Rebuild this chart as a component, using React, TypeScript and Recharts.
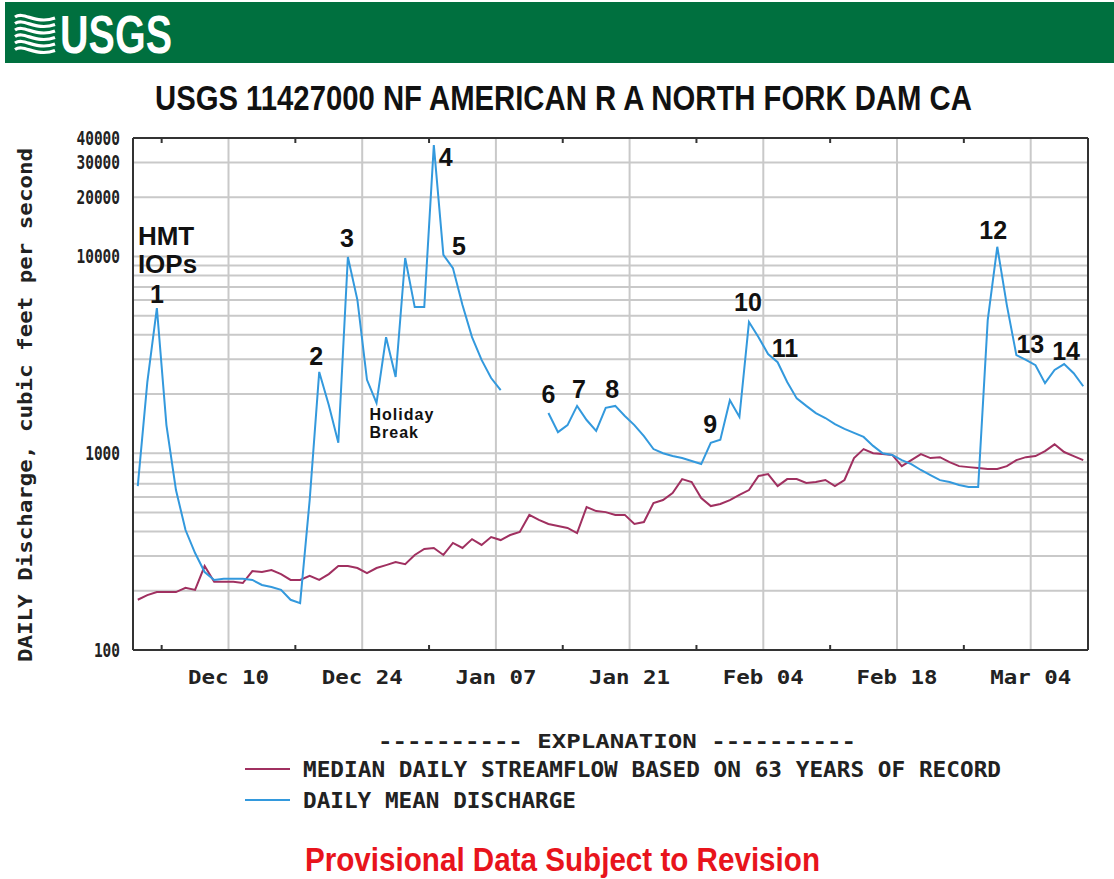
import {
  LineChart,
  Line,
  XAxis,
  YAxis,
  CartesianGrid,
  ReferenceDot,
} from "recharts";

// Daily values, one per day from Nov 30 through Mar 9 (cfs)
const dischargeCfs: (number | null)[] = [
  680, 2300, 5470, 1390, 650, 407, 311, 249, 227, 230,
  230, 230, 227, 214, 209, 202, 180, 173, 578, 2590,
  1760, 1130, 9930, 6000, 2360, 1800, 3890, 2440, 9820, 5530,
  5530, 36800, 10200, 8730, 5660, 3890, 2980, 2410, 2090, null,
  null, null, null, 1600, 1280, 1390, 1740, 1475, 1300, 1700,
  1740, 1545, 1390, 1222, 1050, 1000, 968, 945, 913, 881,
  1130, 1170, 1860, 1530, 4640, 3890, 3190, 2900, 2300, 1900,
  1740, 1600, 1510, 1405, 1330, 1270, 1210, 1090, 1000, 980,
  923, 881, 822, 775, 730, 714, 690, 673, 673, 4750,
  11200, 5660, 3150, 2980, 2800, 2270, 2650, 2840, 2550, 2190,
];

const medianCfs: number[] = [
  180, 190, 197, 197, 197, 207, 202, 267, 222, 222,
  222, 219, 252, 249, 255, 243, 227, 227, 238, 227,
  243, 267, 267, 261, 246, 261, 270, 280, 273, 304,
  326, 330, 304, 350, 330, 366, 342, 375, 362, 384,
  398, 486, 458, 437, 427, 417, 393, 533, 508, 502,
  486, 486, 437, 447, 558, 578, 628, 739, 714, 592,
  539, 552, 578, 614, 650, 766, 783, 681, 739, 739,
  706, 714, 731, 681, 731, 945, 1050, 1000, 990, 980,
  860, 923, 990, 945, 955, 902, 860, 850, 841, 831,
  831, 860, 923, 955, 967, 1025, 1110, 1014, 967, 923,
];

// Day offsets from Nov 30
const X_TICK_DAYS = [10, 24, 38, 52, 66, 80, 94];
const X_TICK_LABELS = ["Dec 10", "Dec 24", "Jan 07", "Jan 21", "Feb 04", "Feb 18", "Mar 04"];
const X_MINOR_DAYS = [3, 17, 31, 45, 59, 73, 87];

const Y_TICKS = [100, 1000, 10000, 20000, 30000, 40000];
const Y_GRID = [
  200, 300, 400, 500, 600, 700, 800, 900,
  1000, 2000, 3000, 4000, 5000, 6000, 7000, 8000, 9000,
  10000, 20000, 30000,
];

// Storm event numbers and the day each one peaks
const IOP_NUMBERS = ["1", "2", "3", "4", "5", "6", "7", "8", "9", "10", "11", "12", "13", "14"];
const IOP_PEAK_INDEX = [2, 19, 22, 31, 33, 43, 46, 50, 59, 64, 66, 90, 92, 97];

// label placement relative to each peak, px
const IOP_LABEL_OFFSET: [number, number][] = [
  [0, -5], [-3, -7], [-1, -10], [12, 21], [6, -13], [0, -10], [2, -8],
  [-3, -8], [9, -31], [-1, -11], [17, 3], [-4, -8], [14, -2], [2, -4],
];

const rows = dischargeCfs.map((v, i) => ({
  day: i + 0.5,
  discharge: v,
  median: medianCfs[i],
}));

const BLUE = "#3399dd";
const MAROON = "#a03060";
const FRAME = "#333";
const GRID = "#c9c9c9";
const MONO = '"DejaVu Sans Mono", "Liberation Mono", monospace';
const SANS = '"Liberation Sans", Arial, sans-serif';

function BottomTick({ x, y, payload }: any) {
  const idx = X_TICK_DAYS.indexOf(payload.value);
  if (idx < 0) {
    return <line x1={x} x2={x} y1={y} y2={y - 5} stroke={FRAME} strokeWidth={2} />;
  }
  return (
    <text
      x={x}
      y={y + 34}
      textAnchor="middle"
      fontFamily={MONO}
      fontWeight="bold"
      fontSize={20}
      fill="#222"
      textLength={81}
      lengthAdjust="spacingAndGlyphs"
    >
      {X_TICK_LABELS[idx]}
    </text>
  );
}

function TopTick({ x, y }: any) {
  return <line x1={x} x2={x} y1={y} y2={y + 5} stroke={FRAME} strokeWidth={2} />;
}

function LeftTick({ x, y, payload }: any) {
  const s = String(payload.value);
  return (
    <text
      x={x}
      y={y}
      dy="0.36em"
      textAnchor="end"
      fontFamily={MONO}
      fontWeight="bold"
      fontSize={19}
      fill="#222"
      textLength={s.length * 8.7}
      lengthAdjust="spacingAndGlyphs"
    >
      {s}
    </text>
  );
}

function bigLabel(text: string, dx: number, dy: number) {
  return (p: any) => (
    <text
      x={p.cx + dx}
      y={p.cy + dy}
      textAnchor="middle"
      fontFamily={SANS}
      fontWeight="bold"
      fontSize={25}
      fill="#111"
    >
      {text}
    </text>
  );
}

function noteLabel(lines: string[], dx: number, dy: number, size: number, step: number) {
  return (p: any) => (
    <g>
      {lines.map((t, k) => (
        <text
          key={t}
          x={p.cx + dx}
          y={p.cy + dy + k * step}
          fontFamily={SANS}
          fontWeight="bold"
          fontSize={size}
          letterSpacing={size > 20 ? 0 : 1}
          fill="#111"
        >
          {t}
        </text>
      ))}
    </g>
  );
}

function UsgsBanner() {
  const waves = [0, 1, 2, 3, 4, 5];
  return (
    <g>
      <rect x={5} y={2} width={1109} height={61} fill="#00703f" />
      {waves.map((k) => {
        const y0 = 17 + k * 6.5;
        return (
          <path
            key={k}
            d={`M15 ${y0} C24 ${y0 - 6}, 36 ${y0 + 8}, 55 ${y0 + 1}`}
            stroke="#fff"
            strokeWidth={3.2}
            fill="none"
          />
        );
      })}
      <text
        x={60}
        y={53}
        fontFamily={SANS}
        fontWeight="bold"
        fontSize={54}
        fill="#fff"
        textLength={112}
        lengthAdjust="spacingAndGlyphs"
      >
        USGS
      </text>
    </g>
  );
}

export default function App() {
  return (
    <div
      style={{
        position: "absolute",
        left: 0,
        top: 0,
        width: 1114,
        height: 879,
        background: "#fff",
      }}
    >
      <LineChart
        width={1114}
        height={879}
        data={rows}
        margin={{ top: 137, right: 25, bottom: 199, left: 73 }}
      >
        <CartesianGrid
          horizontalValues={Y_GRID}
          verticalValues={X_TICK_DAYS}
          stroke={GRID}
          strokeWidth={2}
        />
        <XAxis
          dataKey="day"
          type="number"
          domain={[0, 100]}
          ticks={[...X_MINOR_DAYS, ...X_TICK_DAYS].sort((a, b) => a - b)}
          interval={0}
          height={30}
          tickLine={false}
          tickSize={0}
          tickMargin={0}
          tick={<BottomTick />}
          axisLine={{ stroke: FRAME, strokeWidth: 2 }}
          allowDataOverflow
        />
        <XAxis
          xAxisId="top"
          orientation="top"
          dataKey="day"
          type="number"
          domain={[0, 100]}
          ticks={X_MINOR_DAYS}
          interval={0}
          height={1}
          tickLine={false}
          tickSize={0}
          tickMargin={0}
          tick={<TopTick />}
          axisLine={{ stroke: FRAME, strokeWidth: 2 }}
          allowDataOverflow
        />
        <YAxis
          type="number"
          scale="log"
          domain={[100, 40000]}
          ticks={Y_TICKS}
          interval={0}
          width={60}
          tickLine={false}
          tickSize={0}
          tickMargin={13}
          tick={<LeftTick />}
          axisLine={{ stroke: FRAME, strokeWidth: 2 }}
          allowDataOverflow
        />
        <YAxis
          yAxisId="right"
          orientation="right"
          type="number"
          domain={[0, 1]}
          width={1}
          tick={false}
          tickLine={false}
          axisLine={{ stroke: FRAME, strokeWidth: 2 }}
        />
        <Line
          dataKey="median"
          stroke={MAROON}
          strokeWidth={2}
          dot={false}
          activeDot={false}
          type="linear"
          isAnimationActive={false}
        />
        <Line
          dataKey="discharge"
          stroke={BLUE}
          strokeWidth={2}
          dot={false}
          activeDot={false}
          type="linear"
          isAnimationActive={false}
        />
        {IOP_PEAK_INDEX.map((i, k) => (
          <ReferenceDot
            key={IOP_NUMBERS[k]}
            x={rows[i].day}
            y={dischargeCfs[i] as number}
            r={0}
            shape={bigLabel(IOP_NUMBERS[k], IOP_LABEL_OFFSET[k][0], IOP_LABEL_OFFSET[k][1])}
          />
        ))}
        <ReferenceDot
          x={rows[2].day}
          y={dischargeCfs[2] as number}
          r={0}
          shape={noteLabel(["HMT", "IOPs"], -19, -63, 26, 28)}
        />
        <ReferenceDot
          x={rows[25].day}
          y={dischargeCfs[25] as number}
          r={0}
          shape={noteLabel(["Holiday", "Break"], -7, 17, 16, 18)}
        />
      </LineChart>

      <svg
        width={1114}
        height={879}
        style={{ position: "absolute", left: 0, top: 0, pointerEvents: "none" }}
      >
        <UsgsBanner />
        {/* condensed station title */}
        <text
          transform="translate(155 110) scale(0.8 1)"
          x={0}
          y={0}
          fontFamily={SANS}
          fontWeight="bold"
          fontSize={36}
          fill="#111"
          textLength={1021}
          lengthAdjust="spacingAndGlyphs"
        >
          USGS 11427000 NF AMERICAN R A NORTH FORK DAM CA
        </text>
        <text
          transform="translate(32 405) rotate(-90)"
          textAnchor="middle"
          fontFamily={MONO}
          fontWeight="bold"
          fontSize={20}
          fill="#222"
          textLength={514}
          lengthAdjust="spacingAndGlyphs"
        >
          DAILY Discharge, cubic feet per second
        </text>

        {/* explanation block */}
        <text
          x={378}
          y={748}
          fontFamily={MONO}
          fontWeight="bold"
          fontSize={20}
          fill="#222"
          textLength={478}
          lengthAdjust="spacingAndGlyphs"
        >
          ---------- EXPLANATION ----------
        </text>
        <line x1={245} x2={290} y1={769} y2={769} stroke={MAROON} strokeWidth={2} />
        <text
          x={303}
          y={777}
          fontFamily={MONO}
          fontWeight="bold"
          fontSize={21}
          fill="#222"
          textLength={698}
          lengthAdjust="spacingAndGlyphs"
        >
          MEDIAN DAILY STREAMFLOW BASED ON 63 YEARS OF RECORD
        </text>
        <line x1={245} x2={290} y1={800} y2={800} stroke={BLUE} strokeWidth={2} />
        <text
          x={303}
          y={808}
          fontFamily={MONO}
          fontWeight="bold"
          fontSize={21}
          fill="#222"
          textLength={273}
          lengthAdjust="spacingAndGlyphs"
        >
          DAILY MEAN DISCHARGE
        </text>

        <text
          x={305}
          y={871}
          fontFamily={SANS}
          fontWeight="bold"
          fontSize={33}
          fill="#e8141c"
          textLength={515}
          lengthAdjust="spacingAndGlyphs"
        >
          Provisional Data Subject to Revision
        </text>
      </svg>
    </div>
  );
}
